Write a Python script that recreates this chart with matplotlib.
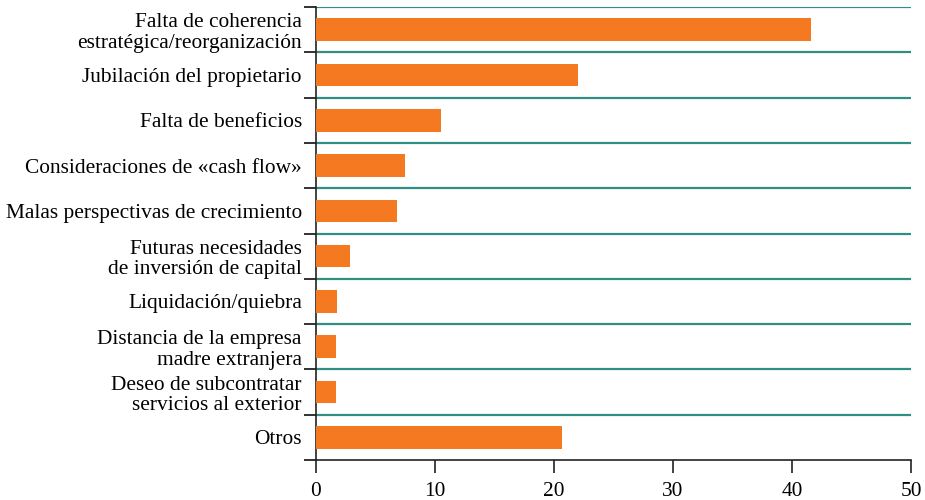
import matplotlib
matplotlib.use("Agg")
import matplotlib.pyplot as plt
import numpy as np

categories = [
    "Falta de coherencia\nestratégica/reorganización",
    "Jubilación del propietario",
    "Falta de beneficios",
    "Consideraciones de «cash flow»",
    "Malas perspectivas de crecimiento",
    "Futuras necesidades\nde inversión de capital",
    "Liquidación/quiebra",
    "Distancia de la empresa\nmadre extranjera",
    "Deseo de subcontratar\nservicios al exterior",
    "Otros",
]
values = [41.6, 22.0, 10.5, 7.5, 6.8, 2.9, 1.75, 1.7, 1.7, 20.7]
xticks = [0, 10, 20, 30, 40, 50]

plt.rcParams['font.family'] = ['Liberation Serif', 'DejaVu Serif']

fig = plt.figure(figsize=(9.25, 5), dpi=100)
ax = fig.add_axes([0.3413, 0.08, 0.985 - 0.3413, 0.986 - 0.08])

n = len(categories)
ypos = np.arange(n)[::-1]
ax.barh(ypos, values, height=0.5, color="#F47920", zorder=3)

ax.set_xlim(0, 50)
ax.set_ylim(-0.5, n - 0.5)

# boundary gridlines
for b in np.arange(0.5, n, 1.0):
    ax.axhline(b, color="#2E8F82", lw=1.6, zorder=2)

ax.set_yticks(ypos)
ax.set_yticklabels(categories, fontsize=15.4, linespacing=1.1)
ax.set_yticks(np.arange(-0.5, n, 1.0), minor=True)
ax.tick_params(axis='y', which='major', length=0, pad=10)
ax.tick_params(axis='y', which='minor', length=9, width=1.3, direction='out', color='#222222')

ax.set_xticks(xticks)
ax.set_xticklabels([str(t) for t in xticks], fontsize=15.4)
ax.tick_params(axis='x', which='major', length=9, width=1.2, direction='out', pad=7, color='#222222')

for s in ['top', 'right']:
    ax.spines[s].set_visible(False)
for s in ['left', 'bottom']:
    ax.spines[s].set_linewidth(1.2)
    ax.spines[s].set_color('#222222')

fig.savefig("out.png", dpi=100)
